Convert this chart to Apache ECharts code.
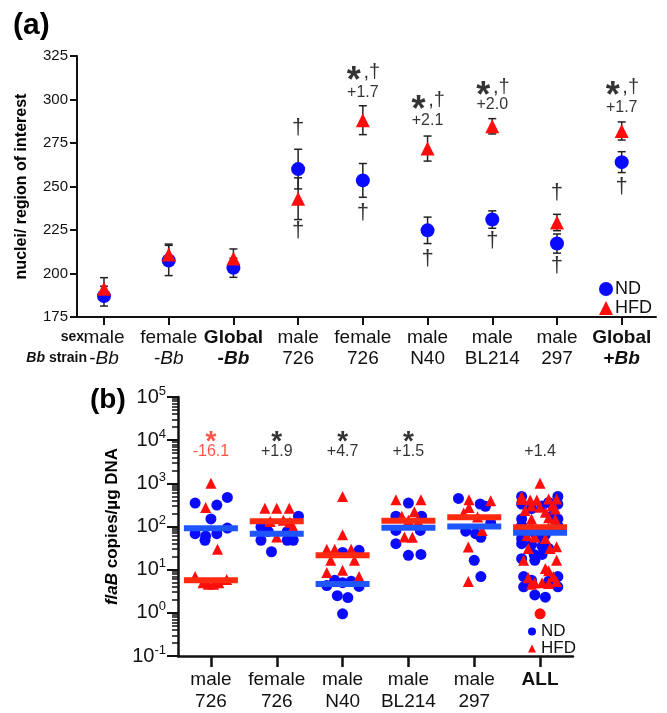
<!DOCTYPE html>
<html>
<head>
<meta charset="utf-8">
<script src="https://cdn.jsdelivr.net/npm/echarts@6/dist/echarts.min.js"></script>
<style>
  html, body { margin: 0; background: #fff; }
  #chart { width: 667px; height: 713px; }
</style>
</head>
<body>
<div id="chart"></div>
<script>
// ---- panel (a): nuclei per region of interest ----
const sexA = ['male', 'female', 'Global', 'male', 'female', 'male', 'male', 'male', 'Global']
const strainA = ['-Bb', '-Bb', '-Bb', '726', '726', 'N40', 'BL214', '297', '+Bb']
const ndMeanA = [187, 207.5, 203.3, 260, 253.5, 224.8, 231, 217.2, 264]
const ndSemA = [5.7, 8.7, 5.5, 11.4, 9.7, 7.6, 5, 5.5, 6]
const hfdMeanA = [191.3, 210.9, 208.6, 243, 288.1, 271.8, 284.6, 229.3, 281.9]
const hfdSemA = [6.3, 6, 5.5, 12, 8.3, 7.2, 4.4, 4.7, 5.2]
// significance marks: [category, level]
const daggerA = [[3, 282.8], [3, 223.9], [4, 234.1], [5, 208], [6, 218.1], [7, 245.9], [7, 204], [8, 249]]
const starA = [[4, 314.9], [5, 298.6], [6, 306.6], [8, 306.3]]
const foldA = [[4, 303.8, '+1.7'], [5, 288.1, '+2.1'], [6, 297.1, '+2.0'], [8, 295.4, '+1.7']]

// ---- panel (b): flaB copies / ug DNA, points are [jitter, value] ----
const sexB = ['male', 'female', 'male', 'male', 'male', 'ALL']
const strainB = ['726', '726', 'N40', 'BL214', '297', '']
const ndB = [
  [[-0.24, 349], [0.09, 314], [0.25, 471], [0, 150], [-0.24, 68], [-0.08, 60], [-0.09, 48], [0.09, 68], [0.25, 92]],
  [[0.33, 173], [-0.24, 97], [-0.24, 48], [-0.08, 26], [0.16, 48], [0.25, 48], [0.16, 77], [-0.13, 77]],
  [[0, 25], [0.25, 28], [-0.12, 5.7], [0.13, 5.4], [-0.24, 4.3], [0.25, 4.1], [-0.08, 2.5], [0.08, 2.26], [0, 0.95], [0, 5]],
  [[0, 349], [-0.19, 173], [0.2, 173], [-0.19, 81], [0.18, 81], [-0.19, 40], [0, 21.5], [0.19, 22.6]],
  [[-0.24, 448], [0.09, 331], [0.17, 293], [0.25, 121], [-0.13, 78], [0.02, 68], [0.1, 56], [0, 16.5], [0.1, 6.9]],
  [[-0.28, 498], [0.27, 498], [-0.28, 331], [0.27, 331], [0.13, 360], [-0.13, 260], [0.03, 300], [-0.28, 150],
   [0.27, 150], [0.18, 175], [-0.28, 105], [0.27, 105], [-0.13, 81], [0.08, 81], [-0.28, 76], [-0.28, 52],
   [-0.28, 40], [-0.13, 38], [0.03, 35], [0.13, 31], [-0.09, 22.5], [0.03, 22.5], [-0.08, 16.5], [-0.28, 18],
   [-0.25, 6.9], [0.27, 6.9], [-0.13, 5.7], [0.13, 5.4], [-0.25, 4], [0.27, 4], [-0.08, 2.6], [0.08, 2.3],
   [-0.08, 70], [0.08, 65], [0, 60]]
]
const hfdB = [
  [[0, 1004], [-0.08, 277], [0.1, 29.6], [-0.24, 6.9], [-0.12, 5], [-0.04, 4.6], [0.04, 4.6], [0.12, 5], [0.24, 5.9]],
  [[-0.18, 264], [0, 264], [0.19, 264], [0.25, 97], [0, 57], [-0.1, 130], [0.1, 140], [0.2, 125]],
  [[0, 497], [0, 64.3], [-0.24, 29.6], [-0.12, 29.6], [0.13, 29.6], [-0.18, 16.5], [0.18, 16.5], [-0.24, 8.6], [0, 9.7], [0.25, 6.9]],
  [[-0.19, 416], [0.19, 416], [0.09, 220], [-0.1, 173], [-0.06, 57], [0.06, 56], [0, 140], [0.15, 130]],
  [[-0.08, 416], [0.25, 397], [-0.08, 277], [-0.16, 206], [0.12, 80.7], [-0.09, 33.6], [-0.09, 5.3], [0.05, 165]],
  [[0, 1004], [-0.28, 498], [-0.28, 420], [-0.15, 410], [-0.05, 410], [0.13, 432], [0.25, 432], [-0.13, 300],
   [0, 278], [0.18, 300], [-0.23, 235], [0.08, 213], [0.23, 255], [-0.13, 150], [0.13, 160], [0.23, 150],
   [-0.2, 62], [-0.08, 57], [0.08, 53], [-0.18, 31], [0.25, 34], [0.15, 31], [-0.25, 16.5], [0.25, 16.5],
   [0.08, 10.6], [0.13, 9.5], [-0.18, 6.5], [-0.08, 5], [0.03, 5], [0.2, 6.9], [0.25, 5.3], [-0.13, 4.6],
   [0.13, 4.8], [-0.13, 100], [0.13, 95]]
]
const outlierB = [[5, 0.95]]
const ndMedB = [91.6, 67.8, 4.65, 93, 100, 71.4]
const hfdMedB = [5.65, 133, 21.5, 135, 164, 96.6]
const starRedB = [[0, 12700]]
const starB = [[1, 12700], [2, 12700], [3, 12700]]
const foldRedB = [[0, 5320, '-16.1']]
const foldB = [[1, 5320, '+1.9'], [2, 5320, '+4.7'], [3, 5320, '+1.5'], [5, 5320, '+1.4']]
const minorTickB = [0.2, 0.3, 0.4, 0.5, 0.6, 0.7, 0.8, 0.9, 2, 3, 4, 5, 6, 7, 8, 9, 20, 30, 40, 50, 60, 70, 80, 90,
  200, 300, 400, 500, 600, 700, 800, 900, 2000, 3000, 4000, 5000, 6000, 7000, 8000, 9000,
  20000, 30000, 40000, 50000, 60000, 70000, 80000, 90000]

const FONT = "'Liberation Sans', Arial, sans-serif"
const BLUE = '#0a0aff'
const RED = '#ff0d0d'
const INK = '#111'

const chart = echarts.init(document.getElementById('chart'), null, { renderer: 'canvas' })

const errorBar = (params, api) => {
  const x = api.value(0), v = api.value(1), e = api.value(2)
  const top = api.coord([x, v + e]), bot = api.coord([x, v - e])
  const w = 4
  const style = { stroke: '#222', lineWidth: 1.5 }
  return {
    type: 'group',
    children: [
      { type: 'line', shape: { x1: top[0], y1: top[1], x2: bot[0], y2: bot[1] }, style },
      { type: 'line', shape: { x1: top[0] - w, y1: top[1], x2: top[0] + w, y2: top[1] }, style },
      { type: 'line', shape: { x1: bot[0] - w, y1: bot[1], x2: bot[0] + w, y2: bot[1] }, style }
    ]
  }
}

const medianBar = color => (params, api) => {
  const i = api.value(0), v = api.value(1)
  const a = api.coord([i - 0.41, v]), b = api.coord([i + 0.41, v])
  return { type: 'rect', shape: { x: a[0], y: a[1] - 3, width: b[0] - a[0], height: 6 }, style: { fill: color } }
}

const flatB = groups => {
  const out = []
  groups.forEach((pts, g) => pts.forEach(([o, v]) => out.push([g + o, Math.log10(v)])))
  return out
}

// text only scatter, used for the * / dagger / fold-change marks
const textMarks = (name, data, axis, label) => ({
  name,
  type: 'scatter',
  xAxisIndex: axis,
  yAxisIndex: axis,
  symbolSize: 0,
  silent: true,
  z: 6,
  data,
  label: Object.assign({ show: true, position: 'inside', color: '#000', fontFamily: FONT }, label)
})

const idx = [0, 1, 2, 3, 4, 5, 6, 7, 8]

const option = {
  animation: false,
  textStyle: { fontFamily: FONT },
  title: [
    { text: '(a)', left: 8, top: 6, textStyle: { fontSize: 30, fontWeight: 'bold', color: '#000', fontFamily: FONT } },
    { text: '(b)', left: 85, top: 381, textStyle: { fontSize: 28, fontWeight: 'bold', color: '#000', fontFamily: FONT } }
  ],
  legend: [
    {
      orient: 'vertical', left: 599, top: 280, padding: 0, itemGap: 1,
      itemWidth: 14, itemHeight: 14, selectedMode: false,
      textStyle: { fontSize: 18, color: INK, fontFamily: FONT, padding: [0, 0, 0, -3] },
      data: [{ name: 'ND', icon: 'circle' }, { name: 'HFD', icon: 'triangle' }]
    },
    {
      orient: 'vertical', left: 528, top: 623, padding: 0, itemGap: 0,
      itemWidth: 8, itemHeight: 8, selectedMode: false,
      textStyle: { fontSize: 17, color: INK, fontFamily: FONT },
      data: [{ name: 'ND', icon: 'circle' }, { name: 'HFD', icon: 'triangle' }]
    }
  ],
  graphic: [
    { type: 'text', x: 84, y: 337, style: { text: 'sex', font: 'bold 14px ' + FONT, fill: INK, align: 'right', verticalAlign: 'middle' } },
    {
      type: 'text', x: 87, y: 358,
      style: {
        text: '{i|Bb} strain', font: 'bold 14px ' + FONT, fill: INK, align: 'right', verticalAlign: 'middle',
        rich: { i: { fontStyle: 'italic', fontWeight: 'bold', fontSize: 14, fontFamily: FONT, fill: INK } }
      }
    }
  ],
  grid: [
    { left: 77, top: 56, width: 579, height: 261 },
    { left: 178, top: 397, width: 395, height: 261.5 }
  ],
  xAxis: [
    {
      gridIndex: 0, type: 'value', min: -0.417, max: 8.53,
      splitLine: { show: false },
      axisLine: { show: true, onZero: false, lineStyle: { color: '#111', width: 2 } },
      axisTick: { show: true, customValues: idx, length: 8, lineStyle: { color: '#111', width: 2 } },
      axisLabel: {
        customValues: idx, margin: 10, color: INK, fontSize: 19, lineHeight: 21,
        formatter: v => {
          const i = Math.round(v)
          const b = sexA[i] === 'Global'
          const s = strainA[i]
          const second = s.endsWith('Bb') ? `{${b ? 'sg' : 's'}|${s[0]}}{${b ? 'ig' : 'i'}|Bb}` : `{n|${s}}`
          return `{${b ? 'b' : 'n'}|${sexA[i]}}\n${second}`
        },
        rich: {
          n: { fontSize: 19, lineHeight: 21, color: INK, fontFamily: FONT },
          b: { fontSize: 19, lineHeight: 21, fontWeight: 'bold', color: INK, fontFamily: FONT },
          s: { fontSize: 19, lineHeight: 21, color: INK, fontFamily: FONT },
          i: { fontSize: 19, lineHeight: 21, fontStyle: 'italic', color: INK, fontFamily: FONT },
          sg: { fontSize: 19, lineHeight: 21, fontWeight: 'bold', color: INK, fontFamily: FONT },
          ig: { fontSize: 19, lineHeight: 21, fontWeight: 'bold', fontStyle: 'italic', color: INK, fontFamily: FONT }
        }
      }
    },
    {
      gridIndex: 1, type: 'value', min: -0.5, max: 5.5,
      splitLine: { show: false },
      axisLine: { show: true, onZero: false, lineStyle: { color: '#111', width: 2.5 } },
      axisTick: { show: true, customValues: [0, 1, 2, 3, 4, 5], length: 11, lineStyle: { color: '#111', width: 2.5 } },
      axisLabel: {
        customValues: [0, 1, 2, 3, 4, 5], margin: 13, color: INK, fontSize: 19, lineHeight: 22,
        formatter: v => {
          const i = Math.round(v)
          return sexB[i] === 'ALL' ? '{b|ALL}\n{n| }' : `{n|${sexB[i]}}\n{n|${strainB[i]}}`
        },
        rich: {
          n: { fontSize: 19, lineHeight: 22, color: INK, fontFamily: FONT },
          b: { fontSize: 19, lineHeight: 22, fontWeight: 'bold', color: INK, fontFamily: FONT }
        }
      }
    }
  ],
  yAxis: [
    {
      gridIndex: 0, type: 'value', min: 175, max: 325, interval: 25,
      splitLine: { show: false },
      axisLine: { show: true, onZero: false, lineStyle: { color: '#111', width: 2 } },
      axisTick: { show: true, length: 7, lineStyle: { color: '#111', width: 2 } },
      axisLabel: { margin: 9, fontSize: 15, color: INK },
      name: 'nuclei/ region of interest',
      nameLocation: 'middle', nameGap: 47, nameRotate: 90,
      nameTextStyle: { fontSize: 16, fontWeight: 'bold', color: '#000', fontFamily: FONT }
    },
    {
      gridIndex: 1, type: 'value', position: 'left', min: -1, max: 5, interval: 1,
      splitLine: { show: false },
      axisLine: { show: true, onZero: false, lineStyle: { color: '#111', width: 2.5 } },
      axisTick: { show: true, length: 11, lineStyle: { color: '#111', width: 2 } },
      axisLabel: {
        margin: 12, color: INK,
        formatter: v => `{n|10}{e|${v}}`,
        rich: {
          n: { fontSize: 20, color: INK, fontFamily: FONT },
          e: { fontSize: 13, color: INK, fontFamily: FONT, padding: [0, 0, 12, 0] }
        }
      },
      name: '{i|flaB} {r|copies/µg DNA}',
      nameLocation: 'middle', nameGap: 50, nameRotate: 90,
      nameTextStyle: {
        fontSize: 17, fontWeight: 'bold', color: '#000', fontFamily: FONT,
        rich: {
          i: { fontSize: 17, fontWeight: 'bold', fontStyle: 'italic', color: '#000', fontFamily: FONT },
          r: { fontSize: 17, fontWeight: 'bold', color: '#000', fontFamily: FONT }
        }
      }
    },
    {
      gridIndex: 1, type: 'value', position: 'left', offset: 0, min: -1, max: 5,
      splitLine: { show: false },
      axisLine: { show: false, onZero: false },
      axisLabel: { show: false },
      axisTick: { show: true, customValues: minorTickB.map(v => Math.log10(v)), length: 6, lineStyle: { color: '#111', width: 1.5 } }
    }
  ],
  series: [
    // panel (a)
    {
      name: 'ND err', type: 'custom', xAxisIndex: 0, yAxisIndex: 0, z: 2, silent: true,
      renderItem: errorBar, encode: { x: 0, y: 1 },
      data: ndMeanA.map((v, i) => [i, v, ndSemA[i]])
    },
    {
      name: 'HFD err', type: 'custom', xAxisIndex: 0, yAxisIndex: 0, z: 2, silent: true,
      renderItem: errorBar, encode: { x: 0, y: 1 },
      data: hfdMeanA.map((v, i) => [i, v, hfdSemA[i]])
    },
    {
      name: 'ND', type: 'scatter', xAxisIndex: 0, yAxisIndex: 0, z: 3,
      symbol: 'circle', symbolSize: 14, itemStyle: { color: BLUE, opacity: 1 },
      data: ndMeanA.map((v, i) => [i, v])
    },
    {
      name: 'HFD', type: 'scatter', xAxisIndex: 0, yAxisIndex: 0, z: 4,
      symbol: 'triangle', symbolSize: 14, itemStyle: { color: RED, opacity: 1 },
      data: hfdMeanA.map((v, i) => [i, v])
    },
    textMarks('dagger a', daggerA, 0, { formatter: '†', fontSize: 22, offset: [0, -1] }),
    textMarks('star a', starA, 0, { formatter: '*', fontSize: 36, fontWeight: 'bold', offset: [-9, 9] }),
    textMarks('star dagger a', starA, 0, { formatter: ',†', fontSize: 20, offset: [9, -1] }),
    textMarks('fold a', foldA.map(d => [d[0], d[1]]), 0, { formatter: p => foldA[p.dataIndex][2], fontSize: 16 }),

    // panel (b)
    {
      name: 'ND', type: 'scatter', xAxisIndex: 1, yAxisIndex: 1, z: 3,
      symbol: 'circle', symbolSize: 11, itemStyle: { color: BLUE, opacity: 1 },
      data: flatB(ndB)
    },
    {
      name: 'HFD', type: 'scatter', xAxisIndex: 1, yAxisIndex: 1, z: 4,
      symbol: 'triangle', symbolSize: 11, itemStyle: { color: RED, opacity: 1 },
      data: flatB(hfdB)
    },
    {
      name: 'outlier', type: 'scatter', xAxisIndex: 1, yAxisIndex: 1, z: 4,
      symbol: 'circle', symbolSize: 11, itemStyle: { color: RED, opacity: 1 },
      data: outlierB.map(([i, v]) => [i, Math.log10(v)])
    },
    {
      name: 'HFD median', type: 'custom', xAxisIndex: 1, yAxisIndex: 1, z: 5, silent: true,
      renderItem: medianBar('#ff2a10'), encode: { x: 0, y: 1 },
      data: hfdMedB.map((v, i) => [i, Math.log10(v)])
    },
    {
      name: 'ND median', type: 'custom', xAxisIndex: 1, yAxisIndex: 1, z: 5, silent: true,
      renderItem: medianBar('#1f55ff'), encode: { x: 0, y: 1 },
      data: ndMedB.map((v, i) => [i, Math.log10(v)])
    },
    textMarks('star b red', starRedB.map(([i, v]) => [i, Math.log10(v)]), 1, { formatter: '*', fontSize: 28, fontWeight: 'bold', color: '#ff2a1a', offset: [0, 7] }),
    textMarks('star b', starB.map(([i, v]) => [i, Math.log10(v)]), 1, { formatter: '*', fontSize: 28, fontWeight: 'bold', offset: [0, 7] }),
    textMarks('fold b red', foldRedB.map(d => [d[0], Math.log10(d[1])]), 1, { formatter: p => foldRedB[p.dataIndex][2], fontSize: 16, color: '#ff2a1a' }),
    textMarks('fold b', foldB.map(d => [d[0], Math.log10(d[1])]), 1, { formatter: p => foldB[p.dataIndex][2], fontSize: 16 })
  ]
}

chart.setOption(option)
</script>
</body>
</html>
